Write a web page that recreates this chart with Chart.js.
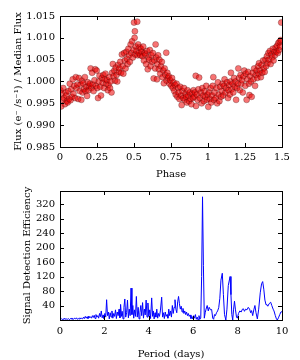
<!DOCTYPE html>
<html>
<head>
<meta charset="utf-8">
<script src="https://cdn.jsdelivr.net/npm/chart.js@4"></script>
<style>
  body { margin: 0; background: #fff; }
  .box { position: absolute; left: 0; width: 300px; height: 180px; }
</style>
</head>
<body>
<div class="box" style="top:0"><canvas id="fold" width="300" height="180"></canvas></div>
<div class="box" style="top:180px"><canvas id="bls" width="300" height="180"></canvas></div>
<script>
// folded light curve
const phase = [
  0.003,0.008,0.012,0.018,0.022,0.027,0.033,0.038,0.043,0.047,
  0.052,0.056,0.061,0.066,0.071,0.076,0.081,0.086,0.091,0.096,
  0.102,0.107,0.112,0.118,0.123,0.128,0.133,0.139,0.144,0.148,
  0.152,0.157,0.162,0.168,0.173,0.178,0.183,0.188,0.193,0.198,
  0.202,0.207,0.212,0.217,0.222,0.227,0.233,0.238,0.243,0.248,
  0.252,0.257,0.262,0.267,0.272,0.277,0.282,0.288,0.293,0.298,
  0.302,0.307,0.312,0.318,0.323,0.328,0.333,0.338,0.343,0.348,
  0.352,0.357,0.362,0.367,0.372,0.377,0.382,0.387,0.392,0.397,
  0.402,0.407,0.412,0.418,0.423,0.428,0.433,0.438,0.443,0.448,
  0.452,0.457,0.462,0.467,0.472,0.477,0.482,0.487,0.492,0.497,0.500,0.506,0.504,
  0.508,0.512,0.517,0.522,0.524,0.528,0.533,0.538,0.543,0.548,
  0.552,0.557,0.562,0.567,0.572,0.577,0.582,0.588,0.593,0.598,
  0.602,0.607,0.612,0.618,0.623,0.628,0.633,0.638,0.643,0.646,0.650,
  0.655,0.658,0.663,0.668,0.672,0.677,0.682,0.688,0.693,0.698,
  0.702,0.707,0.712,0.718,0.720,0.725,0.730,0.735,0.740,0.745,
  0.752,0.757,0.762,0.767,0.772,0.777,0.782,0.788,0.793,0.798,
  0.802,0.807,0.812,0.818,0.822,0.827,0.832,0.838,0.843,0.848,
  0.852,0.857,0.862,0.867,0.872,0.877,0.882,0.888,0.893,0.898,
  0.902,0.907,0.912,0.917,0.919,0.925,0.930,0.935,0.940,0.945,
  0.952,0.957,0.962,0.967,0.972,0.977,0.982,0.988,0.993,0.998,
  1.002,1.007,1.012,1.017,1.022,1.027,1.032,1.036,1.040,1.045,
  1.052,1.057,1.062,1.067,1.072,1.077,1.082,1.088,1.093,1.098,
  1.102,1.107,1.112,1.118,1.123,1.128,1.135,1.138,1.143,1.148,
  1.152,1.155,1.160,1.166,1.171,1.176,1.181,1.186,1.190,1.196,
  1.202,1.205,1.210,1.215,1.220,1.225,1.230,1.235,1.240,1.245,
  1.252,1.256,1.261,1.266,1.271,1.276,1.280,1.285,1.290,1.295,
  1.302,1.307,1.312,1.318,1.323,1.328,1.333,1.338,1.342,1.345,
  1.352,1.357,1.362,1.367,1.372,1.377,1.383,1.388,1.393,1.398,
  1.402,1.408,1.412,1.418,1.423,1.428,1.433,1.438,1.443,1.448,
  1.452,1.457,1.462,1.467,1.472,1.475,1.480,1.484,1.488,1.492,1.495
];
const flux = [
  0.9980,0.9943,0.9972,0.9958,0.9985,0.9962,0.9948,0.9975,0.9968,0.9955,
  0.9952,0.9978,0.9960,0.9995,0.9957,0.9982,0.9965,1.0005,0.9972,0.9990,
  0.9962,1.0010,0.9985,0.9993,0.9960,1.0008,0.9978,0.9993,0.9958,1.0002,
  0.9975,0.9996,0.9982,1.0010,0.9978,0.9988,0.9967,0.9998,0.9980,0.9990,
  0.9995,1.0030,0.9985,1.0020,0.9993,0.9978,1.0003,1.0028,0.9990,1.0025,
  0.9985,0.9962,1.0000,1.0013,0.9988,0.9968,1.0008,0.9997,1.0015,0.9985,
  1.0005,1.0018,0.9995,1.0003,0.9980,0.9992,1.0010,0.9985,1.0000,0.9975,
  1.0020,1.0040,1.0012,1.0025,1.0002,1.0032,1.0015,1.0000,1.0038,1.0022,
  1.0030,1.0045,1.0020,1.0062,1.0035,1.0018,1.0065,1.0048,1.0030,1.0068,
  1.0052,1.0040,1.0075,1.0060,1.0045,1.0085,1.0065,1.0092,1.0055,1.0072,1.0135,1.0115,1.0100,
  1.0062,1.0080,1.0070,1.0137,1.0060,1.0085,1.0065,1.0078,1.0060,1.0075,
  1.0068,1.0058,1.0080,1.0048,1.0065,1.0062,1.0040,1.0070,1.0028,1.0055,
  1.0050,1.0072,1.0035,1.0060,1.0045,1.0065,1.0007,1.0048,1.0030,1.0085,1.0055,
  1.0005,1.0040,1.0060,1.0028,1.0050,1.0018,1.0035,1.0045,1.0010,1.0025,
  0.9996,1.0030,1.0015,1.0066,1.0002,1.0020,1.0008,1.0012,0.9995,1.0003,
  0.9990,1.0008,0.9985,0.9998,0.9978,0.9992,0.9970,0.9995,0.9965,0.9985,
  0.9975,0.9960,0.9988,0.9968,0.9946,0.9978,0.9962,0.9985,0.9958,0.9972,
  0.9965,0.9952,0.9980,0.9968,0.9955,0.9975,0.9960,0.9948,0.9972,0.9962,
  0.9980,0.9965,0.9975,1.0013,0.9944,0.9970,0.9958,0.9982,1.0009,0.9962,
  0.9975,0.9950,0.9985,0.9968,0.9955,0.9978,0.9965,0.9990,0.9958,0.9970,
  0.9942,0.9975,0.9960,0.9985,0.9952,0.9968,0.9990,1.0010,0.9958,0.9975,
  0.9962,0.9985,0.9950,0.9998,0.9970,0.9955,0.9988,0.9965,0.9978,0.9995,
  0.9968,0.9990,1.0005,0.9975,0.9985,0.9998,0.9962,0.9980,0.9992,0.9970,
  1.0000,1.0020,0.9982,0.9995,0.9975,1.0008,0.9988,1.0000,0.9958,0.9985,
  0.9995,1.0030,1.0008,0.9980,1.0015,0.9995,1.0003,0.9975,1.0012,1.0025,
  0.9990,1.0018,0.9958,1.0005,1.0022,0.9995,0.9969,1.0012,1.0000,0.9965,
  1.0020,1.0005,1.0030,0.9990,1.0015,1.0025,1.0008,1.0035,1.0018,1.0042,
  1.0025,1.0010,1.0038,1.0020,1.0048,1.0030,1.0022,1.0050,1.0035,1.0058,
  1.0042,1.0065,1.0050,1.0070,1.0040,1.0062,1.0055,1.0075,1.0048,1.0068,
  1.0060,1.0078,1.0068,1.0082,1.0065,1.0088,1.0072,1.0091,1.0080,1.0095,1.0135
];

// BLS periodogram
const period = [
  0.02,0.06,0.10,0.14,0.18,0.22,0.26,0.30,0.34,0.38,0.42,0.46,0.50,0.54,0.58,0.62,0.66,0.70,0.74,0.78,0.82,0.86,0.90,0.94,0.98,
  1.02,1.06,1.10,1.14,1.18,1.22,1.26,1.30,1.34,1.38,1.42,1.46,1.50,1.54,1.58,1.62,1.66,1.70,1.74,1.78,1.82,1.86,1.90,1.94,1.98,
  2.02,2.06,2.10,2.14,2.18,2.22,2.26,2.30,2.34,2.38,2.42,2.46,2.50,2.54,2.58,2.62,2.66,2.70,2.73,2.77,2.80,2.84,2.88,2.92,2.96,3.00,3.04,3.08,
  3.12,3.16,3.20,3.24,3.28,3.32,3.36,3.40,3.44,3.48,3.52,3.56,3.60,3.64,3.68,3.72,3.76,3.80,3.84,3.88,3.92,3.96,4.00,
  4.04,4.08,4.13,4.17,4.20,4.24,4.28,4.32,4.36,4.40,4.44,4.48,4.52,4.58,4.62,4.66,4.70,4.74,4.78,4.82,4.86,4.90,4.94,4.98,
  5.02,5.06,5.10,5.14,5.18,5.22,5.26,5.30,5.34,5.38,5.42,5.46,5.50,5.54,5.58,5.62,5.66,5.70,5.74,5.78,5.82,5.86,5.90,5.94,5.98,
  6.02,6.06,6.10,6.14,6.18,6.22,6.26,6.30,6.34,6.38,6.42,6.46,6.50,6.54,6.58,6.63,6.68,6.72,6.78,6.83,6.88,6.92,6.96,
  7.00,7.05,7.10,7.15,7.20,7.25,7.31,7.36,7.41,7.47,7.52,7.58,7.66,7.70,7.74,7.78,7.82,7.86,7.90,7.95,7.99,
  8.04,8.10,8.16,8.22,8.26,8.31,8.36,8.42,8.48,8.54,8.59,8.63,8.68,8.73,8.78,8.83,8.89,8.95,
  9.02,9.08,9.13,9.18,9.23,9.28,9.31,9.36,9.42,9.49,9.54,9.60,9.64,9.70,9.75,9.79,9.84,9.90,9.95,10.0
];
const sde = [
  2,4,1,3,2,5,1,3,2,4,1,3,5,2,4,2,5,3,6,2,4,3,6,3,5,
  3,8,4,10,5,9,4,11,6,9,5,12,7,13,4,15,8,12,5,18,9,25,6,14,4,
  18,8,56,12,22,3,20,8,25,5,18,10,28,4,22,12,30,6,43,10,24,3,35,58,8,20,55,6,
  30,12,88,15,40,5,28,10,65,8,35,3,20,40,12,48,5,30,14,55,8,47,10,
  28,4,61,10,25,3,20,8,30,5,18,10,25,63,8,20,4,22,10,15,5,30,12,25,
  8,40,18,35,56,30,20,50,65,45,30,38,22,32,18,25,15,22,12,18,10,14,4,10,3,
  12,5,15,2,8,0,12,2,5,120,340,150,5,20,30,40,25,35,28,29,5,2,15,
  12,20,25,34,60,110,129,70,15,0,30,95,120,70,15,0,30,52,30,8,5,
  18,25,22,30,31,24,30,28,35,30,20,26,12,28,40,20,3,30,
  75,100,106,85,55,42,43,38,45,49,40,30,25,12,3,0,6,15,22,23
];

const serif = "'DejaVu Serif', serif";
Chart.defaults.font.family = serif;
Chart.defaults.font.size = 10;
Chart.defaults.color = '#000';

// matplotlib style frame with inward ticks on all four sides
const frame = {
  id: 'frame',
  afterDatasetsDraw(chart) {
    const { ctx, chartArea: a, scales } = chart;
    ctx.save();
    ctx.strokeStyle = '#000';
    ctx.lineWidth = 1;
    ctx.beginPath();
    scales.x.ticks.forEach((t, i) => {
      const px = Math.round(scales.x.getPixelForTick(i)) + 0.5;
      ctx.moveTo(px, a.bottom); ctx.lineTo(px, a.bottom - 4);
      ctx.moveTo(px, a.top); ctx.lineTo(px, a.top + 4);
    });
    scales.y.ticks.forEach((t, i) => {
      const py = Math.round(scales.y.getPixelForTick(i)) + 0.5;
      ctx.moveTo(a.left, py); ctx.lineTo(a.left + 4, py);
      ctx.moveTo(a.right, py); ctx.lineTo(a.right - 4, py);
    });
    ctx.stroke();
    ctx.strokeRect(Math.round(a.left) + 0.5, Math.round(a.top) + 0.5, Math.round(a.width), Math.round(a.height));
    ctx.restore();
  }
};

function fixWidth(w) { return scale => { scale.width = w; }; }
function fixHeight(h) { return scale => { scale.height = h; }; }

new Chart(document.getElementById('fold'), {
  type: 'scatter',
  data: {
    datasets: [{
      data: phase.map((p, i) => ({ x: p, y: flux[i] })),
      backgroundColor: 'rgba(240,0,0,0.55)',
      borderColor: 'rgba(60,0,0,0.5)',
      borderWidth: 0.6,
      pointRadius: 3
    }]
  },
  options: {
    responsive: false,
    animation: false,
    layout: { padding: { top: 16, right: 18, left: 0, bottom: 0 } },
    plugins: { legend: { display: false }, tooltip: { enabled: false } },
    scales: {
      x: {
        min: 0, max: 1.5,
        grid: { display: false, drawTicks: false },
        border: { display: false },
        afterFit: fixHeight(33),
        ticks: { stepSize: 0.25, padding: 4, maxRotation: 0,
          callback: v => String(+v.toFixed(2)) },
        title: { display: true, text: 'Phase', padding: { top: 0, bottom: 0 } }
      },
      y: {
        min: 0.985, max: 1.015,
        grid: { display: false, drawTicks: false },
        border: { display: false },
        afterFit: fixWidth(60),
        ticks: { stepSize: 0.005, padding: 5, callback: v => v.toFixed(3) },
        title: { display: true, text: 'Flux (e\u207B /s\u207B\u00B9) / Median Flux', padding: { top: 12, bottom: 0 } }
      }
    }
  },
  plugins: [frame]
});

new Chart(document.getElementById('bls'), {
  type: 'line',
  data: {
    datasets: [{
      data: period.map((p, i) => ({ x: p, y: sde[i] })),
      borderColor: '#0000ff',
      borderWidth: 1,
      pointRadius: 0,
      tension: 0,
      fill: false
    }]
  },
  options: {
    responsive: false,
    animation: false,
    layout: { padding: { top: 10, right: 18, left: 0, bottom: 0 } },
    plugins: { legend: { display: false }, tooltip: { enabled: false } },
    scales: {
      x: {
        type: 'linear',
        min: 0, max: 10,
        grid: { display: false, drawTicks: false },
        border: { display: false },
        afterFit: fixHeight(40),
        ticks: { stepSize: 2, padding: 5, maxRotation: 0 },
        title: { display: true, text: 'Period (days)', padding: { top: 1, bottom: 0 } }
      },
      y: {
        min: 0, max: 356,
        grid: { display: false, drawTicks: false },
        border: { display: false },
        afterFit: fixWidth(60),
        ticks: { stepSize: 40, padding: 5, includeBounds: false,
          callback: v => (v === 0 ? '' : String(v)) },
        title: { display: true, text: 'Signal Detection Efficiency', padding: { top: 21, bottom: 0 } }
      }
    }
  },
  plugins: [frame]
});
</script>
</body>
</html>
